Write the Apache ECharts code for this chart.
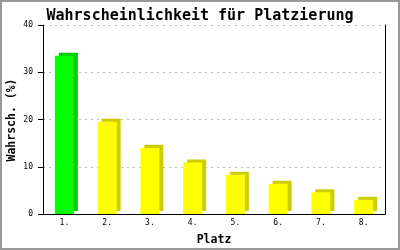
<!DOCTYPE html>
<html><head><meta charset="utf-8">
<script src="https://cdn.jsdelivr.net/npm/echarts@6/dist/echarts.min.js"></script>
<style>html,body{margin:0;padding:0;background:#fff}#c{width:400px;height:250px}</style>
</head><body><div id="c"></div>
<script>
const categories = ['1.','2.','3.','4.','5.','6.','7.','8.'];
const values = [33.5, 19.5, 14.0, 10.9, 8.3, 6.4, 4.6, 3.0];
const yTicks = [0, 10, 20, 30, 40];
const yName = 'Wahrsch. (%)';

const mono = 'DejaVu Sans Mono';
const chart = echarts.init(document.getElementById('c'), null, {renderer:'canvas'});
const data = values.map((v,i)=>({
  value: v,
  itemStyle: i===0
    ? {color:'#00ff00', shadowColor:'#00cc00', shadowOffsetX:4, shadowOffsetY:-3, shadowBlur:0}
    : {color:'#ffff00', shadowColor:'#cccc00', shadowOffsetX:4, shadowOffsetY:-3, shadowBlur:0}
}));
chart.setOption({
  animation:false,
  backgroundColor:'#fff',
  title:{text:'Wahrscheinlichkeit für Platzierung', left:'center', top:4,
    textStyle:{fontFamily:mono, fontSize:15, fontWeight:'bold', color:'#000'}},
  grid:{left:43, right:15, top:25, bottom:36, containLabel:false, outerBoundsMode:'none'},
  xAxis:{type:'category', data:categories,
    name:'Platz', nameLocation:'middle', nameGap:20,
    nameTextStyle:{fontFamily:mono, fontSize:11.5, fontWeight:'bold', color:'#000'},
    axisLine:{lineStyle:{color:'#000', width:1}},
    axisTick:{show:false},
    axisLabel:{fontFamily:mono, fontSize:8, color:'#000', margin:5}},
  yAxis:[{type:'value', min:yTicks[0], max:yTicks[yTicks.length-1], interval:10,
    axisLine:{show:true, lineStyle:{color:'#000', width:1}},
    axisTick:{show:true, length:5, lineStyle:{color:'#000'}},
    axisLabel:{fontFamily:mono, fontSize:8, color:'#000', margin:10},
    splitLine:{show:true, lineStyle:{color:'#bbbbbb', type:[2,4], width:1}}},
   {type:'value', min:0, max:40, interval:10, position:'right',
    axisLine:{show:true, lineStyle:{color:'#000', width:1}},
    axisTick:{show:false}, axisLabel:{show:false}, splitLine:{show:false}}],
  series:[{type:'bar', data:data, barWidth:19}],
  graphic:[
    {type:'text', x:12, y:120, rotation:Math.PI/2, silent:true,
     style:{text:yName, fontFamily:mono, fontSize:11.5, fontWeight:'bold', fill:'#000',
            align:'center', verticalAlign:'middle'}},
    {type:'rect', shape:{x:1, y:1, width:398, height:248},
     style:{fill:null, stroke:'#999', lineWidth:2}, silent:true, z:100}]
});
</script></body></html>
